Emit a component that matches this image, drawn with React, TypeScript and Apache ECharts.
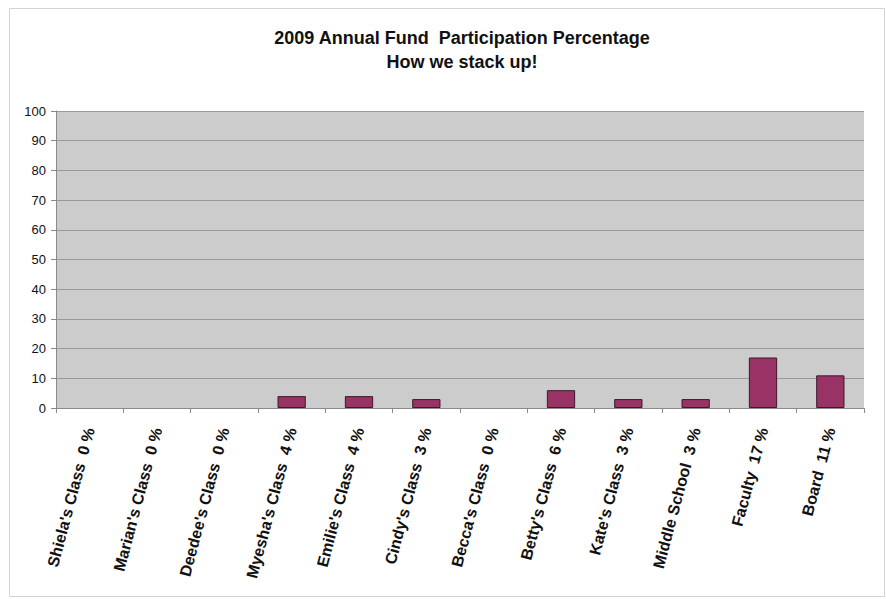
import React, { useEffect, useRef } from "react";
import * as echarts from "echarts";

const categories = [
  "Shiela's Class  0 %",
  "Marian's Class  0 %",
  "Deedee's Class  0 %",
  "Myesha's Class  4 %",
  "Emilie's Class  4 %",
  "Cindy's Class  3 %",
  "Becca's Class  0 %",
  "Betty's Class  6 %",
  "Kate's Class  3 %",
  "Middle School  3 %",
  "Faculty  17 %",
  "Board  11 %",
];
const values = [0, 0, 0, 4, 4, 3, 0, 6, 3, 3, 17, 11];
const titleLines = ["2009 Annual Fund  Participation Percentage", "How we stack up!"];

export default function App() {
  const ref = useRef<HTMLDivElement>(null);
  useEffect(() => {
    if (!ref.current) return;
    const chart = echarts.init(ref.current, null, { renderer: "svg" });
    const font = "Liberation Sans, Arial, sans-serif";
    chart.setOption({
      animation: false,
      backgroundColor: "#ffffff",
      textStyle: { fontFamily: font },
      title: {
        text: titleLines.join("\n"),
        left: 457,
        textAlign: "center",
        top: 21,
        textStyle: {
          fontSize: 18,
          fontWeight: "bold",
          color: "#111",
          lineHeight: 24,
          fontFamily: font,
        },
      },
      graphic: [
        {
          type: "rect",
          shape: { x: 9.5, y: 8.5, width: 875, height: 588 },
          style: { fill: "none", stroke: "#d4d4d4", lineWidth: 1 },
          silent: true,
        },
      ],
      grid: { left: 56, right: 22, top: 111, bottom: 191, show: true, backgroundColor: "#cccccc", borderWidth: 0 },
      xAxis: {
        type: "category",
        data: categories,
        axisLine: { show: true, lineStyle: { color: "#8a8a8a", width: 1 } },
        axisTick: { show: true, alignWithLabel: false, length: 5, lineStyle: { color: "#8a8a8a" } },
        axisLabel: {
          rotate: 75,
          interval: 0,
          fontSize: 16,
          fontWeight: "bold",
          color: "#111",
          margin: 20,
          fontFamily: font,
        },
        splitLine: { show: false },
      },
      yAxis: {
        type: "value",
        min: 0,
        max: 100,
        interval: 10,
        axisLine: { show: true, lineStyle: { color: "#8a8a8a", width: 1 } },
        axisTick: { show: true, length: 5, lineStyle: { color: "#8a8a8a" } },
        axisLabel: { fontSize: 13, color: "#111", margin: 10, fontFamily: font },
        splitLine: { show: true, lineStyle: { color: "#999999", width: 1 } },
      },
      series: [
        {
          type: "bar",
          data: values.map((v) => (v === 0 ? { value: v, itemStyle: { borderWidth: 0 } } : v)),
          barWidth: "42%",
          itemStyle: { color: "#993366", borderColor: "#3a1a28", borderWidth: 1 },
        },
      ],
    });
    return () => chart.dispose();
  }, []);
  return (
    <div
      ref={ref}
      style={{ position: "fixed", left: 0, top: 0, width: 886, height: 599 }}
    />
  );
}
